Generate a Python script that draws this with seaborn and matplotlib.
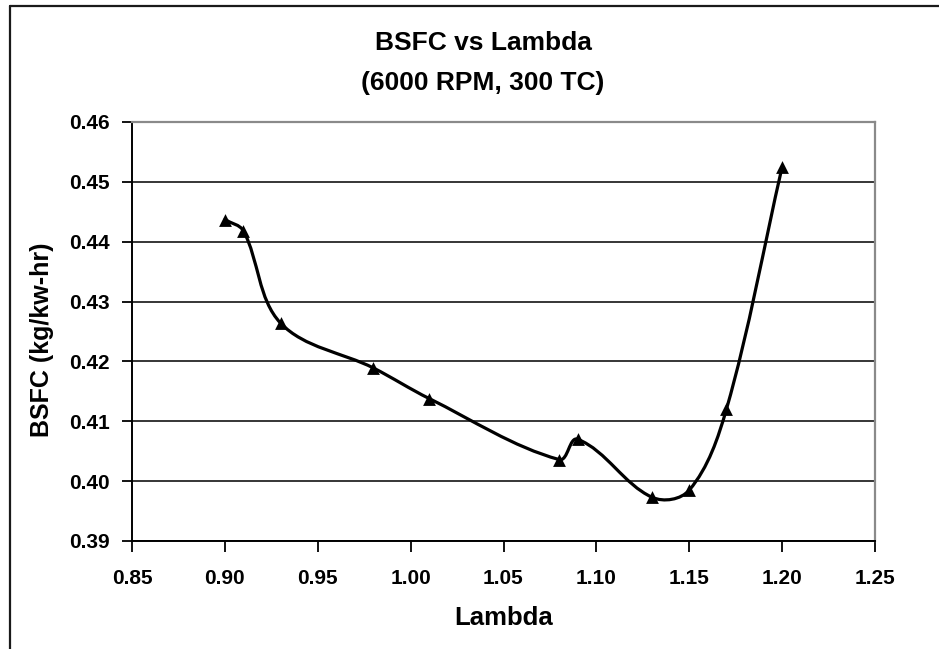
import numpy as np
import pandas as pd
import matplotlib
matplotlib.use("Agg")
import matplotlib.pyplot as plt
import seaborn as sns
from matplotlib.path import Path
from matplotlib.patches import PathPatch
from matplotlib.lines import Line2D

# ---- data ----
lam = [0.90, 0.91, 0.93, 0.98, 1.01, 1.08, 1.09, 1.13, 1.15, 1.17, 1.20]
bsfc = [0.4437, 0.4418, 0.4264, 0.4189, 0.4138, 0.4036, 0.4070, 0.3973, 0.3985, 0.4120, 0.4525]
x_ticks = [0.85, 0.90, 0.95, 1.00, 1.05, 1.10, 1.15, 1.20, 1.25]
y_ticks = [0.39, 0.40, 0.41, 0.42, 0.43, 0.44, 0.45, 0.46]
title_lines = ["BSFC vs Lambda", "(6000 RPM, 300 TC)"]
x_label = "Lambda"
y_label = "BSFC (kg/kw-hr)"

sns.set_theme(style="white")
plt.rcParams['font.family'] = ['Liberation Sans', 'DejaVu Sans']
plt.rcParams['font.weight'] = 'bold'

W, H = 939, 649
fig = plt.figure(figsize=(W / 100, H / 100), dpi=100)
fig.patch.set_facecolor('white')
ax = fig.add_axes([132 / W, 1 - 541 / H, (875 - 132) / W, (541 - 122) / H])

df = pd.DataFrame({"Lambda": lam, "BSFC": bsfc})

ax.set_xlim(0.85, 1.25)
ax.set_ylim(0.39, 0.46)

# Excel-style smoothed line: cubic Bezier segments through the data points,
# tangents computed in screen space, then mapped back to data space.
pts_d = df[["Lambda", "BSFC"]].to_numpy()
pts = ax.transData.transform(pts_d)
n = len(pts)


def unit(v):
    nv = np.hypot(*v)
    return v / nv if nv > 0 else v


verts = [pts[0]]
codes = [Path.MOVETO]
for i in range(n - 1):
    p0 = pts[i - 1] if i > 0 else pts[i]
    p1 = pts[i]
    p2 = pts[i + 1]
    p3 = pts[i + 2] if i + 2 < n else pts[i + 1]
    seg = np.hypot(*(p2 - p1))
    c1 = p1 + unit(p2 - p0) * seg / 3.0
    c2 = p2 - unit(p3 - p1) * seg / 3.0
    verts += [c1, c2, p2]
    codes += [Path.CURVE4] * 3
verts_data = ax.transData.inverted().transform(np.array(verts))
ax.add_patch(PathPatch(Path(verts_data, codes), facecolor='none', edgecolor='black',
                       lw=2.3, zorder=3, capstyle='round', joinstyle='round'))

sns.scatterplot(data=df, x="Lambda", y="BSFC", marker='^', s=85, color='black',
                edgecolor='black', linewidth=0, ax=ax, zorder=4, legend=False)

ax.set_xlim(0.85, 1.25)
ax.set_ylim(0.39, 0.46)
ax.set_xticks(x_ticks)
ax.set_xticklabels([f"{v:.2f}" for v in x_ticks])
ax.set_yticks(y_ticks)
ax.set_yticklabels([f"{v:.2f}" for v in y_ticks])

ax.yaxis.grid(True, color='black', lw=1.1)
ax.xaxis.grid(False)
ax.set_axisbelow(True)

for s in ['left', 'bottom']:
    ax.spines[s].set_color('black')
    ax.spines[s].set_linewidth(1.4)
for s in ['top', 'right']:
    ax.spines[s].set_color('#8a8a8a')
    ax.spines[s].set_linewidth(1.6)

ax.tick_params(axis='x', bottom=True, direction='out', length=8, width=1.3,
               color='black', labelsize=15, pad=12, labelcolor='black')
ax.tick_params(axis='y', left=True, direction='out', length=7, width=1.3,
               color='black', labelsize=15, pad=9, labelcolor='black')
for lbl in ax.get_xticklabels() + ax.get_yticklabels():
    lbl.set_fontweight('bold')

ax.set_xlabel(x_label, fontsize=18.5, fontweight='bold', color='black')
ax.set_ylabel(y_label, fontsize=18, fontweight='bold', color='black')
ax.xaxis.set_label_coords(0.5, (541 - 606) / 419)
ax.yaxis.set_label_coords((54 - 132) / 743, (541 - 340) / 419)

fig.text(483 / W, 1 - 50 / H, title_lines[0], ha='center', va='baseline',
         fontsize=19, fontweight='bold', color='black')
fig.text(483 / W, 1 - 90 / H, title_lines[1], ha='center', va='baseline',
         fontsize=19, fontweight='bold', color='black')

# outer chart-area border (top and left visible in the reference)
fig.add_artist(Line2D([10 / W, 1.0], [1 - 6 / H, 1 - 6 / H], transform=fig.transFigure,
                      color='#1a1a1a', lw=1.6))
fig.add_artist(Line2D([10 / W, 10 / W], [0.0, 1 - 6 / H], transform=fig.transFigure,
                      color='#1a1a1a', lw=1.6))

fig.savefig("out.png", dpi=100, facecolor='white')
